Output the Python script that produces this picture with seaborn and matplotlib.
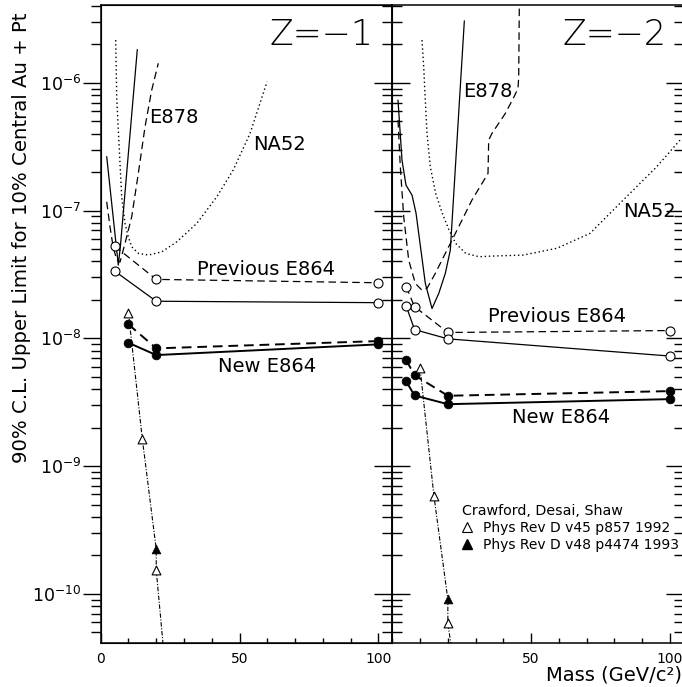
import numpy as np
import seaborn as sns
import matplotlib.pyplot as plt
from matplotlib.lines import Line2D
from matplotlib.ticker import LogLocator, NullFormatter, MultipleLocator

sns.set_style("ticks", {"axes.edgecolor": "black", "xtick.color": "black",
                        "ytick.color": "black", "text.color": "black",
                        "axes.labelcolor": "black"})
plt.rcParams['font.family'] = ['DejaVu Sans']

# -------------------------------
# DATA  (Z = -1 panel)
# -------------------------------
z1_e878_solid_x = [2.16, 6.34, 7.13, 13.18]
z1_e878_solid_y = [2.64e-7, 3.74e-8, 5.37e-8, 1.82e-6]

z1_e878_dash_x = [2.16, 3.35, 4.54, 5.87, 6.95, 8.75, 11.17, 13.54, 15.96, 18.37, 20.75]
z1_e878_dash_y = [1.17e-7, 7.46e-8, 5.08e-8, 4.09e-8, 3.95e-8, 5.53e-8, 8.93e-8,
                  1.95e-7, 4.52e-7, 8.77e-7, 1.42e-6]

z1_na52_x = [5.40, 5.76, 6.34, 6.95, 7.56, 8.75, 9.94, 11.17, 13.56, 17.17, 22.0,
             27.4, 34.6, 41.8, 47.7, 53.8, 59.9]
z1_na52_y = [2.16e-6, 7.76e-7, 4.26e-7, 2.34e-7, 1.28e-7, 7.93e-8, 6.23e-8, 5.20e-8,
             4.62e-8, 4.48e-8, 4.75e-8, 5.69e-8, 7.93e-8, 1.28e-7, 2.07e-7, 4.02e-7,
             1.02e-6]

z1_prev_x = [5, 20, 100]
z1_prev_dash_y = [5.27e-8, 2.89e-8, 2.72e-8]
z1_prev_solid_y = [3.36e-8, 1.95e-8, 1.90e-8]

z1_new_x = [10, 20, 100]
z1_new_dash_y = [1.285e-8, 8.34e-9, 9.51e-9]
z1_new_solid_y = [9.22e-9, 7.39e-9, 8.96e-9]

z1_cds_open_x = [10, 15, 20]
z1_cds_open_y = [1.58e-8, 1.62e-9, 1.53e-10]
z1_cds_fill_x = [20]
z1_cds_fill_y = [2.23e-10]
z1_cds_line_x = [10, 15, 20, 20, 23]
z1_cds_line_y = [1.58e-8, 1.62e-9, 2.23e-10, 1.53e-10, 3e-11]

# -------------------------------
# DATA  (Z = -2 panel)
# -------------------------------
z2_e878_solid_x = [2.05, 3.49, 4.93, 7.10, 8.54, 9.51, 11.89, 14.30, 16.71, 19.09,
                   20.89, 25.94]
z2_e878_solid_y = [7.32e-7, 2.48e-7, 1.58e-7, 1.32e-7, 9.55e-8, 6.62e-8, 2.69e-8,
                   1.71e-8, 2.24e-8, 3.22e-8, 4.90e-8, 3.05e-6]

z2_e878_dash_x = [2.05, 2.88, 4.11, 5.91, 8.28, 10.69, 12.50, 15.48, 19.09, 23.91,
                  28.70, 34.46, 34.71, 35.90, 40.69, 43.83, 45.26, 45.52, 45.88]
z2_e878_dash_y = [5.11e-7, 2.20e-7, 8.93e-8, 4.09e-8, 2.69e-8, 2.38e-8, 2.46e-8,
                  3.22e-8, 4.62e-8, 7.46e-8, 1.21e-7, 1.95e-7, 3.56e-7, 4.02e-7,
                  5.75e-7, 7.76e-7, 9.04e-7, 1.11e-6, 1e-5]

z2_na52_x = [10.69, 11.31, 11.88, 12.50, 13.68, 15.63, 18.01, 20.42, 22.83, 26.43,
             31.22, 36.02, 47.19, 59.21, 71.18, 83.18, 95.21, 103.6]
z2_na52_y = [2.16e-6, 1.33e-6, 7.32e-7, 4.02e-7, 2.20e-7, 1.36e-7, 9.50e-8, 7.03e-8,
             5.53e-8, 4.62e-8, 4.35e-8, 4.40e-8, 4.48e-8, 5.06e-8, 6.62e-8, 1.21e-7,
             2.20e-7, 3.56e-7]

z2_prev_x = [5, 8, 20, 100]
z2_prev_dash_y = [2.53e-8, 1.77e-8, 1.11e-8, 1.15e-8]
z2_prev_solid_y = [1.79e-8, 1.17e-8, 9.9e-9, 7.26e-9]

z2_new_x = [5, 8, 20, 100]
z2_new_dash_y = [6.75e-9, 5.15e-9, 3.55e-9, 3.86e-9]
z2_new_solid_y = [4.60e-9, 3.57e-9, 3.05e-9, 3.34e-9]

z2_cds_open_x = [10, 15, 20]
z2_cds_open_y = [5.81e-9, 5.82e-10, 5.86e-11]
z2_cds_fill_x = [20]
z2_cds_fill_y = [9.04e-11]
z2_cds_line_x = [10, 15, 20, 20, 22]
z2_cds_line_y = [5.81e-9, 5.82e-10, 9.04e-11, 5.86e-11, 3e-11]

x_lim = (0, 105)
y_lim = (4.1e-11, 4.06e-6)

DOT = (0, (1, 2))
DASH = (0, (6, 3.5))
DASHDOT = (0, (4, 1.5, 1, 1.5))


def line(ax, x, y, ls, lw=0.9, **kw):
    sns.lineplot(x=x, y=y, ax=ax, color='black', linestyle=ls, linewidth=lw,
                 estimator=None, sort=False, **kw)


def open_marks(ax, x, y, marker, size):
    sns.scatterplot(x=x, y=y, ax=ax, marker=marker, s=size, color='white',
                    edgecolor='black', linewidth=0.8, zorder=4)


def filled_marks(ax, x, y, marker, size):
    sns.scatterplot(x=x, y=y, ax=ax, marker=marker, s=size, color='black',
                    edgecolor='black', linewidth=0.5, zorder=4)


fig = plt.figure(figsize=(6.82, 6.87), dpi=100)
W, H = 682, 687
ax1 = fig.add_axes([100.7 / W, 1 - 643.3 / H, 291.6 / W, 638.3 / H])
ax2 = fig.add_axes([392.3 / W, 1 - 643.3 / H, 291.6 / W, 638.3 / H])

# -------------------------------
# Z = -1
# -------------------------------
line(ax1, z1_e878_solid_x, z1_e878_solid_y, '-')
line(ax1, z1_e878_dash_x, z1_e878_dash_y, DASH)
line(ax1, z1_na52_x, z1_na52_y, DOT, lw=1.0)
line(ax1, z1_prev_x, z1_prev_dash_y, DASH)
line(ax1, z1_prev_x, z1_prev_solid_y, '-')
line(ax1, z1_new_x, z1_new_dash_y, (0, (5, 3)), lw=1.4)
line(ax1, z1_new_x, z1_new_solid_y, '-', lw=1.4)
line(ax1, z1_cds_line_x, z1_cds_line_y, DASHDOT, lw=0.8)
open_marks(ax1, z1_prev_x, z1_prev_dash_y, 'o', 42)
open_marks(ax1, z1_prev_x, z1_prev_solid_y, 'o', 42)
filled_marks(ax1, z1_new_x, z1_new_dash_y, 'o', 40)
filled_marks(ax1, z1_new_x, z1_new_solid_y, 'o', 40)
open_marks(ax1, z1_cds_open_x, z1_cds_open_y, '^', 40)
filled_marks(ax1, z1_cds_fill_x, z1_cds_fill_y, '^', 40)

# -------------------------------
# Z = -2
# -------------------------------
line(ax2, z2_e878_solid_x, z2_e878_solid_y, '-')
line(ax2, z2_e878_dash_x, z2_e878_dash_y, DASH)
line(ax2, z2_na52_x, z2_na52_y, DOT, lw=1.0)
line(ax2, z2_prev_x, z2_prev_dash_y, DASH)
line(ax2, z2_prev_x, z2_prev_solid_y, '-')
line(ax2, z2_new_x, z2_new_dash_y, (0, (5, 3)), lw=1.4)
line(ax2, z2_new_x, z2_new_solid_y, '-', lw=1.4)
line(ax2, z2_cds_line_x, z2_cds_line_y, DASHDOT, lw=0.8)
open_marks(ax2, z2_prev_x, z2_prev_dash_y, 'o', 42)
open_marks(ax2, z2_prev_x, z2_prev_solid_y, 'o', 42)
filled_marks(ax2, z2_new_x, z2_new_dash_y, 'o', 40)
filled_marks(ax2, z2_new_x, z2_new_solid_y, 'o', 40)
open_marks(ax2, z2_cds_open_x, z2_cds_open_y, '^', 40)
filled_marks(ax2, z2_cds_fill_x, z2_cds_fill_y, '^', 40)

# -------------------------------
# axes / ticks
# -------------------------------
for ax in (ax1, ax2):
    ax.set_yscale('log')
    ax.set_xlim(*x_lim)
    ax.set_ylim(*y_lim)
    ax.set_xlabel('')
    ax.set_ylabel('')
    ax.yaxis.set_major_locator(LogLocator(base=10, numticks=20))
    ax.yaxis.set_minor_locator(LogLocator(base=10, subs=np.arange(2, 10), numticks=20))
    ax.yaxis.set_minor_formatter(NullFormatter())
    ax.xaxis.set_minor_locator(MultipleLocator(10))
    ax.tick_params(axis='x', which='major', direction='in', length=7, width=1,
                   labelsize=10, pad=6, top=False)
    ax.tick_params(axis='x', which='minor', direction='in', length=3.5, width=1, top=False)
    for s in ax.spines.values():
        s.set_linewidth(1.1)

ax1.set_xticks([0, 50, 100])
ax2.set_xticks([50, 100])

ax1.tick_params(axis='y', which='major', direction='out', length=13, width=1,
                labelsize=12.5, pad=1, right=False)
ax1.tick_params(axis='y', which='minor', direction='out', length=7, width=1, right=False)

axr = ax1.twinx()
axr.set_yscale('log')
axr.set_ylim(*y_lim)
axr.yaxis.set_major_locator(LogLocator(base=10, numticks=20))
axr.yaxis.set_minor_locator(LogLocator(base=10, subs=np.arange(2, 10), numticks=20))
axr.tick_params(axis='y', which='major', direction='in', length=13, width=1, labelright=False)
axr.tick_params(axis='y', which='minor', direction='in', length=7, width=1, labelright=False)
axr.yaxis.set_minor_formatter(NullFormatter())

ax2.tick_params(axis='y', which='major', direction='in', length=13, width=1,
                left=True, right=True, labelleft=False)
ax2.tick_params(axis='y', which='minor', direction='in', length=7, width=1,
                left=True, right=True, labelleft=False)

# labels
ax1.set_ylabel('90% C.L. Upper Limit for 10% Central Au + Pt', fontsize=14.2, va='center')
ax1.yaxis.set_label_coords(-0.273, 0.636)
ax2.set_xlabel('Mass (GeV/c²)', fontsize=14, ha='right', va='baseline')
ax2.xaxis.set_label_coords(0.992, -0.0575)

# -------------------------------
# annotations
# -------------------------------
ax1.text(0.934, 0.9373, 'Z=−1', transform=ax1.transAxes, ha='right', va='baseline',
         fontsize=25, fontweight='light')
ax2.text(0.942, 0.9373, 'Z=−2', transform=ax2.transAxes, ha='right', va='baseline',
         fontsize=25, fontweight='light')

ax1.text(17.5, 4.84e-7, 'E878', fontsize=14, va='baseline')
ax1.text(54.9, 2.97e-7, 'NA52', fontsize=14, va='baseline')
ax1.text(34.6, 3.13e-8, 'Previous E864', fontsize=14, va='baseline')
ax1.text(42.4, 5.44e-9, 'New E864', fontsize=14, va='baseline')

ax2.text(25.6, 7.73e-7, 'E878', fontsize=14, va='baseline')
ax2.text(83.2, 8.89e-8, 'NA52', fontsize=14, va='baseline')
ax2.text(34.6, 1.34e-8, 'Previous E864', fontsize=14, va='baseline')
ax2.text(43.0, 2.17e-9, 'New E864', fontsize=14, va='baseline')

handles = [Line2D([], [], ls='none', marker='^', mfc='white', mec='black', ms=6.5, mew=0.8),
           Line2D([], [], ls='none', marker='^', mfc='black', mec='black', ms=6.5)]
ax2.legend(handles, ['Phys Rev D v45 p857 1992', 'Phys Rev D v48 p4474 1993'],
           title='Crawford, Desai, Shaw', loc='upper left', bbox_to_anchor=(0.238, 0.218),
           frameon=False, fontsize=10, title_fontsize=10.3, handlelength=0.8,
           handletextpad=0.7, labelspacing=0.2, borderpad=0, borderaxespad=0,
           alignment='left')

fig.savefig('out.png', dpi=100)
